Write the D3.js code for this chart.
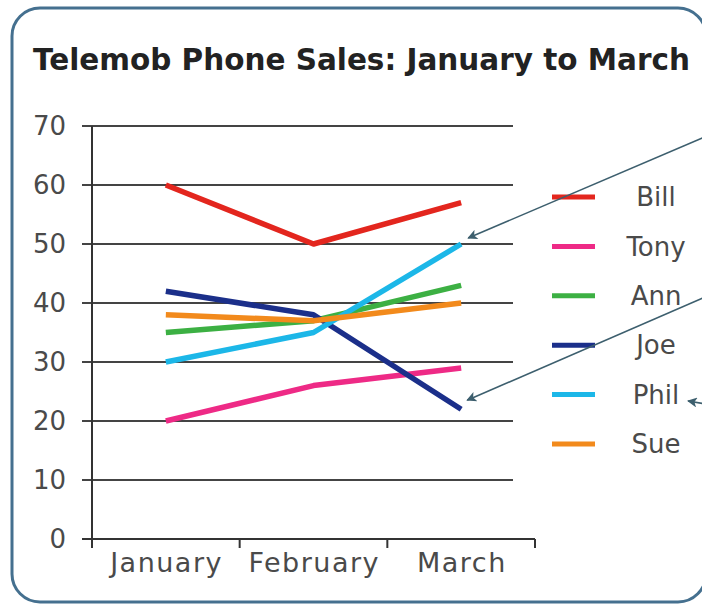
<!DOCTYPE html>
<html>
<head>
<meta charset="utf-8">
<script src="https://cdn.jsdelivr.net/npm/d3@7"></script>
<style>
  html, body { margin: 0; padding: 0; background: #ffffff; }
  svg { display: block; }
</style>
</head>
<body>
<svg id="chart" width="702" height="605"></svg>
<script>
// Monthly phone sales per salesperson
const months = ["January", "February", "March"];
const people = ["Bill", "Tony", "Ann", "Joe", "Phil", "Sue"];
const bill = [60, 50, 57];
const tony = [20, 26, 29];
const ann  = [35, 37, 43];
const joe  = [42, 38, 22];
const phil = [30, 35, 50];
const sue  = [38, 37, 40];
const yTicks = [0, 10, 20, 30, 40, 50, 60, 70];
const colors = ["#e3261e", "#ee2a86", "#3cb043", "#1b2f8a", "#1cb7e8", "#f28a1c"];

const series = [bill, tony, ann, joe, phil, sue].map((values, i) => ({
  name: people[i], values, color: colors[i]
}));

const svg = d3.select("#chart");
const font = "'DejaVu Sans', sans-serif";

// Frame
svg.append("rect")
  .attr("x", 12).attr("y", 8)
  .attr("width", 694).attr("height", 594)
  .attr("rx", 28).attr("ry", 28)
  .attr("fill", "#ffffff")
  .attr("stroke", "#45708f")
  .attr("stroke-width", 3);

// Title
svg.append("text")
  .attr("x", 33).attr("y", 70)
  .attr("font-family", font)
  .attr("font-weight", "bold")
  .attr("font-size", 30)
  .attr("fill", "#222222")
  .attr("textLength", 657)
  .attr("lengthAdjust", "spacingAndGlyphs")
  .text("Telemob Phone Sales: January to March");

// Scales
const plotLeft = 92, plotRight = 535, gridRight = 513;
const y = d3.scaleLinear().domain([0, 70]).range([539, 126]);
const xBand = d3.scaleBand().domain(months).range([plotLeft, plotRight]);
const x = d3.scalePoint().domain(months).range([plotLeft, plotRight]).padding(0.5);

// Horizontal gridlines with left tick stubs
svg.append("g").selectAll("line")
  .data(yTicks)
  .join("line")
  .attr("x1", plotLeft - 10).attr("x2", gridRight)
  .attr("y1", d => y(d)).attr("y2", d => y(d))
  .attr("stroke", "#444444")
  .attr("stroke-width", 2);

// Y tick labels
svg.append("g").selectAll("text")
  .data(yTicks)
  .join("text")
  .attr("x", 66)
  .attr("y", d => y(d))
  .attr("dy", "0.35em")
  .attr("text-anchor", "end")
  .attr("font-family", font)
  .attr("font-size", 26)
  .attr("fill", "#4a4a4a")
  .text(d => d);

// Y axis line
svg.append("line")
  .attr("x1", plotLeft).attr("x2", plotLeft)
  .attr("y1", y(70)).attr("y2", y(0) + 9)
  .attr("stroke", "#333333")
  .attr("stroke-width", 2);

// X axis line
svg.append("line")
  .attr("x1", plotLeft - 10).attr("x2", plotRight)
  .attr("y1", y(0)).attr("y2", y(0))
  .attr("stroke", "#333333")
  .attr("stroke-width", 2);

// X axis ticks between categories
const boundaries = months.map(m => xBand(m)).concat([xBand(months[months.length - 1]) + xBand.bandwidth()]);
svg.append("g").selectAll("line")
  .data(boundaries.slice(1))
  .join("line")
  .attr("x1", d => d).attr("x2", d => d)
  .attr("y1", y(0)).attr("y2", y(0) + 9)
  .attr("stroke", "#333333")
  .attr("stroke-width", 2);

// X category labels
svg.append("g").selectAll("text")
  .data(months)
  .join("text")
  .attr("x", d => x(d) + 0.75)
  .attr("y", 572)
  .attr("text-anchor", "middle")
  .attr("font-family", font)
  .attr("font-size", 27)
  .attr("letter-spacing", 1.5)
  .attr("fill", "#4a4a4a")
  .text(d => d);

// Sales lines
const line = d3.line()
  .x((d, i) => x(months[i]))
  .y(d => y(d));

svg.append("g").selectAll("path")
  .data(series)
  .join("path")
  .attr("d", d => line(d.values))
  .attr("fill", "none")
  .attr("stroke", d => d.color)
  .attr("stroke-width", 5.5)
  .attr("stroke-linejoin", "round");

// Legend
const legendY = d3.scalePoint().domain(people).range([197, 444]);
const legend = svg.append("g").selectAll("g")
  .data(series)
  .join("g")
  .attr("transform", d => `translate(0,${legendY(d.name)})`);
legend.append("line")
  .attr("x1", 552).attr("x2", 595)
  .attr("stroke", d => d.color)
  .attr("stroke-width", 5);
legend.append("text")
  .attr("x", 656)
  .attr("dy", "0.35em")
  .attr("text-anchor", "middle")
  .attr("font-family", font)
  .attr("font-size", 26)
  .attr("fill", "#4a4a4a")
  .text(d => d.name);

// Callout arrows pointing at March values
svg.append("defs").append("marker")
  .attr("id", "arrowhead")
  .attr("viewBox", "0 0 10 10")
  .attr("refX", 9).attr("refY", 5)
  .attr("markerWidth", 12).attr("markerHeight", 10)
  .attr("markerUnits", "userSpaceOnUse")
  .attr("orient", "auto")
  .append("path")
  .attr("d", "M0,0 L10,5 L0,10 L2.5,5 Z")
  .attr("fill", "#3d5f6e");

const callouts = [
  { from: [740, 122], to: [x("March") + 7, y(phil[2]) - 6] },
  { from: [740, 282], to: [x("March") + 6, y(joe[2]) - 9] },
  { from: [730, 408], to: [688, 401] }
];
svg.append("g").selectAll("line")
  .data(callouts)
  .join("line")
  .attr("x1", d => d.from[0]).attr("y1", d => d.from[1])
  .attr("x2", d => d.to[0]).attr("y2", d => d.to[1])
  .attr("stroke", "#3d5f6e")
  .attr("stroke-width", 1.6)
  .attr("marker-end", "url(#arrowhead)");
</script>
</body>
</html>
